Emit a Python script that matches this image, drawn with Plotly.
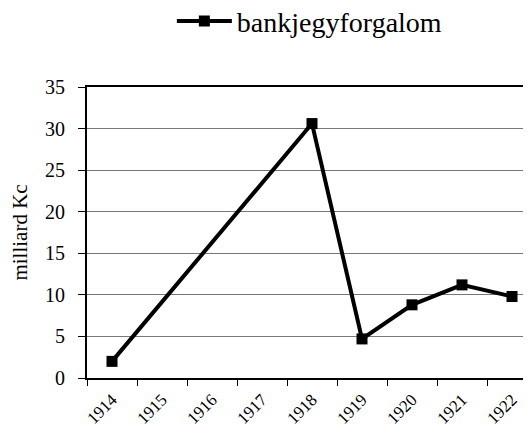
import plotly.graph_objects as go

categories = ["1914", "1915", "1916", "1917", "1918", "1919", "1920", "1921", "1922"]
years = ["1914", "1918", "1919", "1920", "1921", "1922"]
values = [2.0, 30.6, 4.7, 8.8, 11.2, 9.8]
series_name = "bankjegyforgalom"
y_title = "milliard Kc"
y_ticks = [0, 5, 10, 15, 20, 25, 30, 35]

FONT = "Liberation Serif, Times New Roman, serif"

fig = go.Figure()
fig.add_trace(go.Scatter(
    x=years, y=values, name=series_name, mode="lines+markers",
    line=dict(color="black", width=4),
    marker=dict(symbol="square", size=11, color="black"),
    showlegend=True,
))

fig.update_layout(
    width=515, height=419,
    margin=dict(l=79, r=0, t=79, b=49),
    paper_bgcolor="white", plot_bgcolor="white",
    font=dict(family=FONT, color="black", size=20),
    showlegend=True,
    legend=dict(orientation="h", x=0.51, xanchor="center", y=0.968, yanchor="middle",
                yref="container", font=dict(size=28, family=FONT),
                itemwidth=55),
    xaxis=dict(
        type="category", categoryorder="array", categoryarray=categories,
        range=[-0.5, 8.22], tickmode="array", tickvals=categories, ticktext=categories,
        tickson="boundaries", ticks="outside", ticklen=6, tickwidth=1, tickcolor="black",
        showline=True, linecolor="black", linewidth=2, mirror=True,
        showgrid=False, tickangle=-45, tickfont=dict(size=17, family=FONT),
        ticklabelstandoff=3,
        automargin=False,
    ),
    yaxis=dict(
        range=[0, 35], tickmode="array", tickvals=y_ticks,
        ticks="outside", ticklen=7, tickwidth=1, tickcolor="black",
        showline=True, linecolor="black", linewidth=2,
        showgrid=True, gridcolor="#777777", gridwidth=1, zeroline=False,
        tickfont=dict(size=20, family=FONT),
        ticklabelstandoff=9,
        title=dict(text=y_title, font=dict(size=21, family=FONT), standoff=22),
        automargin=False,
    ),
)

fig.write_html("out.html")
